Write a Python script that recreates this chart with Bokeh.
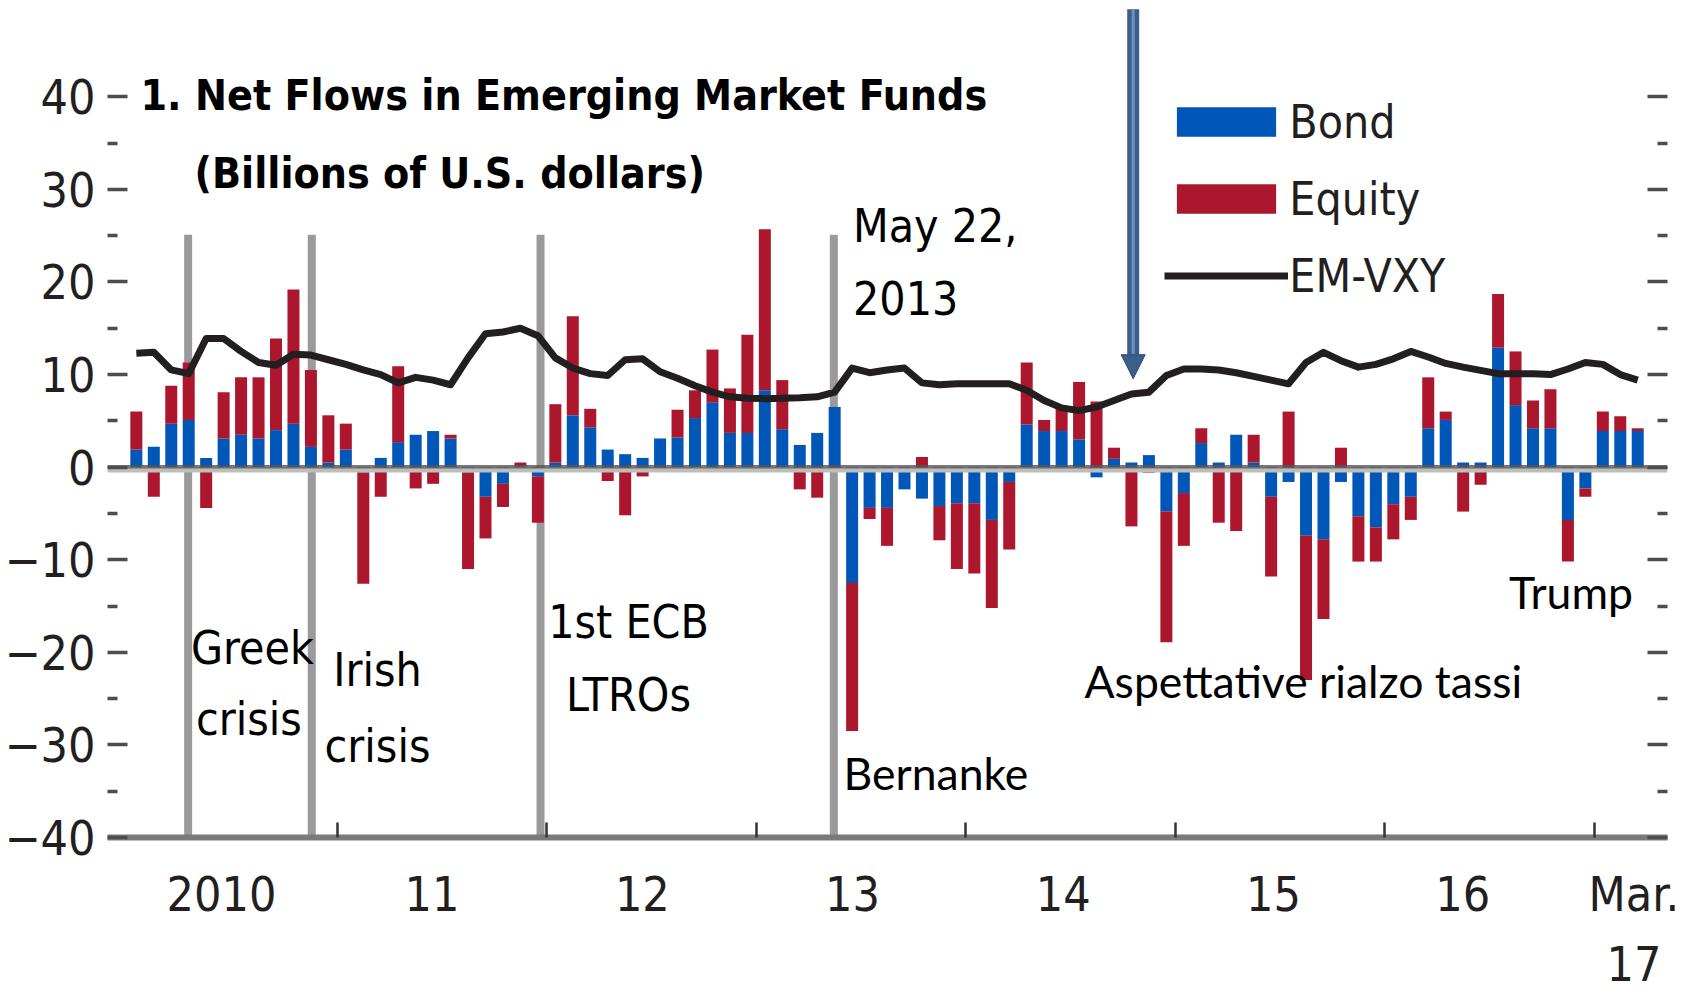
import numpy as np
import pandas as pd
from bokeh.plotting import figure
from bokeh.models import (Range1d, FixedTicker, LinearAxis, Legend, LegendItem,
                          Arrow, NormalHead, Label, ColumnDataSource)
from bokeh.embed import file_html
from bokeh.resources import INLINE

# ---------------- data (billions of US$, monthly Jan 2010 - Mar 2017) -------------
months = pd.date_range("2010-01-01", "2017-03-01", freq="MS")

bond = [1.9, 2.2, 4.7, 5.1, 1.0, 3.1, 3.5, 3.1, 4.0, 4.7, 2.2, 0.5,
        1.9, -0.6, 1.0, 2.7, 3.5, 3.9, 3.1, -0.6, -3.2, -1.8, 0.1, -1.0,
        0.5, 5.6, 4.3, 1.9, 1.4, 1.0, 3.1, 3.2, 5.3, 7.0, 3.7, 3.7,
        8.3, 4.1, 2.4, 3.7, 6.5, -12.5, -4.4, -4.4, -2.4, -3.4, -4.2, -3.9,
        -3.9, -5.7, -1.6, 4.6, 3.9, 3.9, 3.0, -1.1, 0.9, 0.5, 1.3, -4.8,
        -2.8, 2.6, 0.5, 3.5, 0.5, -3.2, -1.6, -7.4, -7.8, -1.6, -5.3, -6.5,
        -4.0, -3.2, 4.2, 5.1, 0.5, 0.5, 12.9, 6.7, 4.2, 4.2, -5.7, -2.3,
        3.9, 3.9, 3.9]

equity = [4.1, -3.2, 4.1, 6.2, -4.4, 5.0, 6.2, 6.6, 9.9, 14.5, 8.3, 5.1,
          2.8, -12.0, -3.2, 8.2, -2.3, -1.8, 0.4, -10.4, -4.5, -2.5, 0.4, -5.0,
          6.3, 10.7, 2.0, -1.5, -5.2, -1.0, -0.4, 3.0, 3.0, 5.7, 4.8, 10.6,
          17.4, 5.3, -2.4, -3.3, -0.3, -16.0, -1.2, -4.1, 0.0, 1.1, -3.7, -7.1,
          -7.6, -9.5, -7.3, 6.7, 1.2, 2.7, 6.2, 7.1, 1.2, -6.4, -0.6, -14.1,
          -5.7, 1.6, -6.0, -6.9, 3.0, -8.6, 6.0, -15.6, -8.6, 2.1, -4.9, -3.7,
          -3.8, -2.5, 5.5, 0.9, -4.8, -1.9, 5.8, 5.8, 3.0, 4.2, -4.5, -0.9,
          2.1, 1.6, 0.3]

em_vxy = [12.3, 12.4, 10.5, 10.1, 13.9, 13.9, 12.5, 11.3, 11.0, 12.2, 12.1, 11.6,
          11.1, 10.5, 10.0, 9.1, 9.7, 9.4, 8.9, 11.8, 14.4, 14.6, 15.0, 14.2,
          11.8, 10.7, 10.1, 9.9, 11.6, 11.7, 10.3, 9.6, 8.8, 8.1, 7.6, 7.45,
          7.4, 7.45, 7.5, 7.6, 8.1, 10.7, 10.2, 10.5, 10.7, 9.1, 8.9, 9.0,
          9.0, 9.0, 9.0, 8.3, 7.2, 6.4, 6.1, 6.5, 7.2, 7.9, 8.1, 9.9,
          10.6, 10.6, 10.5, 10.2, 9.8, 9.4, 9.0, 11.3, 12.4, 11.5, 10.8, 11.1,
          11.7, 12.5, 11.9, 11.2, 10.8, 10.45, 10.1, 10.1, 10.1, 10.0, 10.6, 11.3,
          11.1, 10.0, 9.4]

# events (decimal years)
event_x = [2010.289, 2010.879, 2011.971, 2013.371]
event_top = 25.1

# x-axis labels (positions in decimal years)
xlabel_pos = [2010.448, 2011.453, 2012.457, 2013.46, 2014.466, 2015.47, 2016.373, 2017.19]
xlabel_txt = ["2010", "11", "12", "13", "14", "15", "16", "Mar.\n17"]
year_ticks = [2011, 2012, 2013, 2014, 2015, 2016, 2017]

y_major = [-40, -30, -20, -10, 0, 10, 20, 30, 40]
y_minor = [-35, -25, -15, -5, 5, 15, 25, 35]

NARROW = "DejaVu Sans Condensed, Liberation Sans, sans-serif"
HUMAN = "Lato"

# annotations: text, x, y, font, size, style, align
ann_text = ["1. Net Flows in Emerging Market Funds", "(Billions of U.S. dollars)",
            "Greek", "crisis", "Irish", "crisis", "1st ECB", "LTROs",
            "May 22,", "2013", "Bernanke", "Aspettative rialzo tassi", "Trump"]
ann_x = [2010.0616, 2010.3193, 2010.3022, 2010.3260, 2011.193, 2011.193,
         2012.391, 2012.391, 2013.4625, 2013.4625, 2013.4176, 2014.5675, 2016.594]
ann_y = [40.13, 31.71, -19.51, -27.17, -21.89, -30.09, -16.71, -24.59,
         26.01, 18.24, -32.93, -23.0, -13.4]
ann_font = [NARROW] * 10 + [HUMAN] * 3
ann_size = ["42.5px", "42.5px"] + ["46px"] * 8 + ["44.5px"] * 3
ann_style = ["bold", "bold"] + ["normal"] * 11
ann_align = ["left", "left", "left", "left", "center", "center", "center", "center",
             "left", "left", "left", "left", "left"]

arrow_x = 2014.80
arrow_tip = 9.55
arrow_top = 49.46

# ---------------- derived stacking ----------------
xm = np.array([d.year + (d.month - 0.5) / 12 for d in months])
b = np.array(bond)
e = np.array(equity)
eq_bottom = np.where(np.sign(e) == np.sign(b), b, 0.0)
eq_top = eq_bottom + e

src = ColumnDataSource(dict(x=xm, bond=b, zero=np.zeros_like(b), eq_bottom=eq_bottom,
                            eq_top=eq_top, vxy=np.array(em_vxy)))

BLUE = "#0057B7"
RED = "#AD172D"
INK = "#231F20"

X0, X1 = 2009.904, 2017.3504
p = figure(width=1692, height=994,
           x_range=Range1d(X0, X1), y_range=Range1d(-40, 50.4),
           output_backend="svg", toolbar_location=None,
           x_axis_location=None, y_axis_location=None,
           min_border_left=107, min_border_right=25, min_border_top=0, min_border_bottom=156)
p.grid.visible = False
p.outline_line_color = None
p.background_fill_color = "white"
p.border_fill_color = "white"

# event lines
p.segment(x0=event_x, y0=[-40] * len(event_x), x1=event_x, y1=[event_top] * len(event_x),
          line_width=8, line_color="#9a9a9c")

bw = 0.0573
r_bond = p.vbar(x="x", width=bw, bottom="zero", top="bond", source=src,
                fill_color=BLUE, line_color=None)
r_eq = p.vbar(x="x", width=bw, bottom="eq_bottom", top="eq_top", source=src,
              fill_color=RED, line_color=None)

# zero line
p.line(x=[X0, X1], y=[-0.3, -0.3], line_color="#bdbdbd", line_width=5)
p.line(x=[X0, X1], y=[0.05, 0.05], line_color="#555555", line_width=3.5, line_alpha=0.8)

r_line = p.line(x="x", y="vxy", source=src, line_color=INK, line_width=7, line_join="round")

# ---------------- axes ----------------
xaxis = LinearAxis(ticker=FixedTicker(ticks=xlabel_pos, minor_ticks=year_ticks))
xaxis.major_label_overrides = {float(k): v for k, v in zip(xlabel_pos, xlabel_txt)}
xaxis.major_tick_in = 0
xaxis.major_tick_out = 0
xaxis.minor_tick_in = 15
xaxis.minor_tick_out = 0
xaxis.minor_tick_line_color = "#333333"
xaxis.minor_tick_line_width = 2.5
xaxis.axis_line_color = "#7a7a7a"
xaxis.axis_line_width = 6
xaxis.major_label_text_font = NARROW
xaxis.major_label_text_font_size = "48px"
xaxis.major_label_text_color = INK
xaxis.major_label_standoff = 28
xaxis.major_label_text_line_height = 1.25
p.add_layout(xaxis, "below")

yaxis = LinearAxis(ticker=FixedTicker(ticks=y_major, minor_ticks=y_minor))
yaxis.major_label_overrides = {v: (str(v).replace("-", "\u2212")) for v in y_major}
yaxis.axis_line_color = None
yaxis.major_tick_in = 20
yaxis.major_tick_out = 0
yaxis.minor_tick_in = 10
yaxis.minor_tick_out = 0
yaxis.major_tick_line_color = "#4d4d4d"
yaxis.minor_tick_line_color = "#4d4d4d"
yaxis.major_tick_line_width = 3.5
yaxis.minor_tick_line_width = 3.5
yaxis.major_label_text_font = NARROW
yaxis.major_label_text_font_size = "48px"
yaxis.major_label_text_color = INK
yaxis.major_label_standoff = 12
p.add_layout(yaxis, "left")

# right-hand tick marks only (no labels): long ones at tens, short ones at fives
for tick_vals, tick_len in ((y_major, 20), (y_minor, 10)):
    ra = LinearAxis(ticker=FixedTicker(ticks=[], minor_ticks=tick_vals))
    ra.axis_line_color = None
    ra.major_tick_in = 0
    ra.major_tick_out = 0
    ra.minor_tick_in = tick_len
    ra.minor_tick_out = 0
    ra.minor_tick_line_color = "#4d4d4d"
    ra.minor_tick_line_width = 3.5
    ra.major_label_standoff = 0
    ra.axis_label_standoff = 0
    p.add_layout(ra, "right")

# ---------------- annotations ----------------
for t, x, y, f, s, st, al in zip(ann_text, ann_x, ann_y, ann_font, ann_size, ann_style, ann_align):
    p.add_layout(Label(x=x, y=y, text=t, text_font=f, text_font_size=s, text_font_style=st,
                       text_align=al, text_baseline="alphabetic", text_color="#000000"))

head_len = 24 / 9.27
p.add_layout(Arrow(start=None, end=None, x_start=arrow_x, y_start=arrow_top, x_end=arrow_x,
                   y_end=arrow_tip + head_len, line_width=12, line_color="#3c5e8d"))
p.add_layout(Arrow(start=None, end=None, x_start=arrow_x, y_start=arrow_top, x_end=arrow_x,
                   y_end=arrow_tip + head_len, line_width=3, line_color="#6f8fbd"))
p.add_layout(Arrow(end=NormalHead(size=24, fill_color="#3c5e8d", line_color="#2f4b75", line_width=1),
                   x_start=arrow_x, y_start=arrow_tip + head_len, x_end=arrow_x, y_end=arrow_tip,
                   line_alpha=0))

legend = Legend(items=[LegendItem(label="Bond", renderers=[r_bond]),
                       LegendItem(label="Equity", renderers=[r_eq]),
                       LegendItem(label="EM-VXY", renderers=[r_line])],
                location=(1057.3, 534.5), orientation="vertical",
                glyph_width=124, glyph_height=37, label_standoff=1, spacing=23,
                padding=0, margin=0, border_line_color=None, background_fill_alpha=0,
                label_text_font=NARROW, label_text_font_size="46px", label_text_color=INK)
p.add_layout(legend)

open("out.html", "w").write(file_html(p, INLINE))
